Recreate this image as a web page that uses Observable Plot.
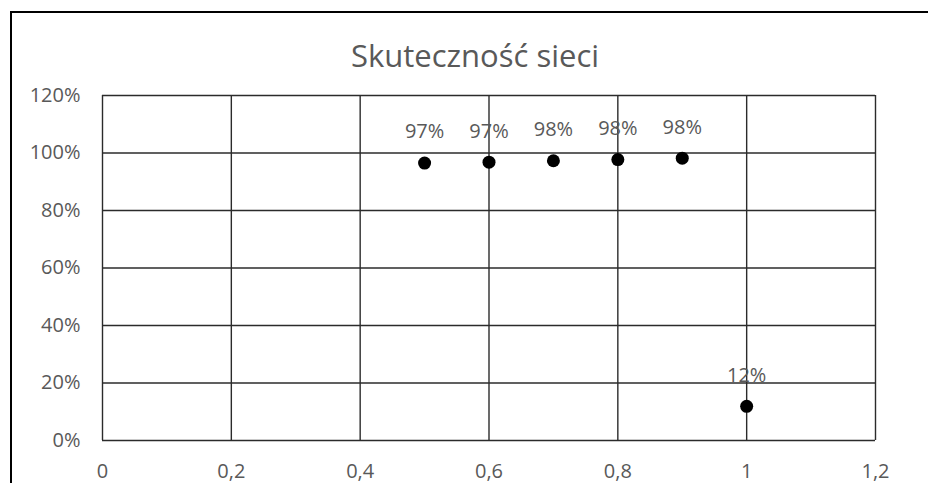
<!DOCTYPE html>
<html>
<head>
<meta charset="utf-8">
<script src="https://cdn.jsdelivr.net/npm/d3@7"></script>
<script src="https://cdn.jsdelivr.net/npm/@observablehq/plot@0.6"></script>
<style>
  html, body { margin: 0; padding: 0; background: #fff; width: 928px; height: 483px; overflow: hidden; position: relative; }
  #frame { position: absolute; left: 10px; top: 11px; width: 2000px; height: 2000px; border-left: 2px solid #000; border-top: 2px solid #000; box-sizing: border-box; pointer-events: none; }
  #title { position: absolute; left: 0; top: 40px; width: 950px; text-align: center; font-family: "Open Sans", sans-serif; font-size: 31px; line-height: 31px; color: #595959; }
  #chart { position: absolute; left: 0; top: 0; }
</style>
</head>
<body>
<div id="chart"></div>
<div id="frame"></div>
<div id="title">Skuteczność sieci</div>
<script>
const xValues = [0.5, 0.6, 0.7, 0.8, 0.9, 1.0];
const yValues = [96.5, 96.8, 97.3, 97.7, 98.2, 11.9];
const pointLabels = ["97%", "97%", "98%", "98%", "98%", "12%"];
const xTicks = [0, 0.2, 0.4, 0.6, 0.8, 1, 1.2];
const yTicks = [0, 20, 40, 60, 80, 100, 120];

const data = xValues.map((x, i) => ({x, y: yValues[i], label: pointLabels[i]}));

const chart = Plot.plot({
  width: 928,
  height: 483,
  marginLeft: 102,
  marginRight: 53,
  marginTop: 95,
  marginBottom: 43,
  style: { fontFamily: "Open Sans, sans-serif", fontSize: "20px", color: "#595959", background: "transparent" },
  x: { domain: [0, 1.2], ticks: xTicks, tickFormat: d => String(d).replace(".", ","), tickSize: 0, tickPadding: 23, label: null },
  y: { domain: [0, 120], ticks: yTicks, tickFormat: d => d + "%", tickSize: 0, tickPadding: 22, label: null },
  marks: [
    Plot.gridX(xTicks, { stroke: "#2b2b2b", strokeOpacity: 1, strokeWidth: 1.4 }),
    Plot.gridY(yTicks, { stroke: "#2b2b2b", strokeOpacity: 1, strokeWidth: 1.4 }),
    Plot.axisX({ ticks: xTicks, tickFormat: d => String(d).replace(".", ","), tickSize: 0, tickPadding: 23, fill: "#595959", fontSize: 20, label: null }),
    Plot.axisY({ ticks: yTicks, tickFormat: d => d + "%", tickSize: 0, tickPadding: 22, fill: "#595959", fontSize: 20, label: null }),
    Plot.dot(data, { x: "x", y: "y", r: 6.5, fill: "#000", stroke: "none" }),
    Plot.text(data, { x: "x", y: "y", text: "label", dy: -31, fill: "#595959", fontSize: 20 })
  ]
});
document.getElementById("chart").appendChild(chart);
</script>
</body>
</html>
